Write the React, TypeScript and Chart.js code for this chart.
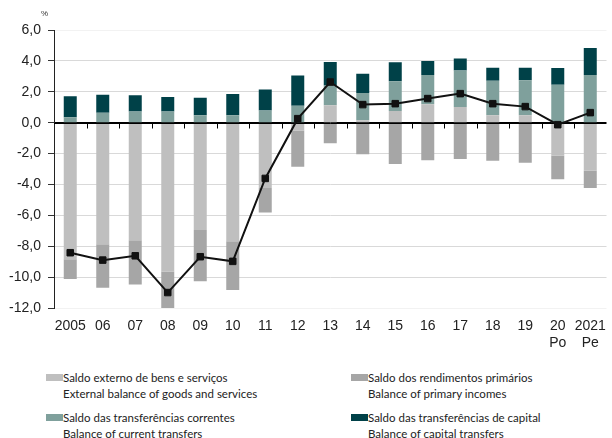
import React, { useEffect, useRef } from "react";
import { Chart, registerables } from "chart.js";

Chart.register(...registerables);

const categories: (string | string[])[] = [
  "2005", "06", "07", "08", "09", "10", "11", "12", "13", "14", "15", "16", "17", "18", "19",
  ["20", "Po"], ["2021", "Pe"],
];

const goodsServices = [-8.85, -7.88, -7.62, -9.63, -6.95, -7.67, -4.23, -0.5, 1.12, 0.15, 0.76, 1.19, 1.02, 0.48, 0.48, -2.14, -3.09];
const primaryIncome = [-1.28, -2.81, -2.86, -3.03, -3.31, -3.17, -1.58, -2.35, -1.34, -2.05, -2.68, -2.44, -2.35, -2.46, -2.59, -1.53, -1.14];
const currentTransfers = [0.35, 0.65, 0.73, 0.73, 0.48, 0.48, 0.78, 1.1, 1.29, 1.77, 1.92, 1.9, 2.35, 2.24, 2.26, 2.46, 3.09];
const capitalTransfers = [1.36, 1.16, 1.04, 0.93, 1.14, 1.38, 1.36, 1.96, 1.51, 1.25, 1.23, 0.91, 0.78, 0.84, 0.82, 1.08, 1.75];
const totalBalance = [-8.42, -8.9, -8.62, -11.0, -8.68, -8.98, -3.61, 0.26, 2.63, 1.17, 1.23, 1.56, 1.88, 1.23, 1.04, -0.13, 0.65];

const legendItems = [
  { pt: "Saldo externo de bens e serviços", en: "External balance of goods and services", color: "#bfbfbf" },
  { pt: "Saldo dos rendimentos primários", en: "Balance of primary incomes", color: "#a6a6a6" },
  { pt: "Saldo das transferências correntes", en: "Balance of current transfers", color: "#7fa09c" },
  { pt: "Saldo das transferências de capital", en: "Balance of capital transfers", color: "#004148" },
];

const AXIS_FONT = "'Liberation Sans', Arial, sans-serif";
const LEGEND_FONT = "Lato, 'Open Sans', sans-serif";

const zeroLinePlugin = {
  id: "zeroLine",
  beforeDatasetDraw(chart: any, args: any) {
    if (args.meta.type !== "line") return;
    const { ctx, chartArea, scales } = chart;
    const x = scales.x;
    const y = scales.y;
    const y0 = Math.round(y.getPixelForValue(0)) + 0.5;
    ctx.save();
    ctx.strokeStyle = "#000";
    ctx.lineWidth = 1;
    ctx.beginPath();
    ctx.moveTo(chartArea.left, y0);
    ctx.lineTo(chartArea.right, y0);
    for (let i = 1; i < x.ticks.length; i++) {
      const px = Math.round((x.getPixelForTick(i - 1) + x.getPixelForTick(i)) / 2) + 0.5;
      ctx.moveTo(px, y0);
      ctx.lineTo(px, y0 + 5);
    }
    ctx.stroke();
    ctx.restore();
  },
};

export default function App() {
  const canvasRef = useRef<HTMLCanvasElement | null>(null);

  useEffect(() => {
    if (!canvasRef.current) return;
    const chart = new Chart(canvasRef.current, {
      type: "bar",
      data: {
        labels: categories,
        datasets: [
          { type: "bar", label: legendItems[0].pt, data: goodsServices, backgroundColor: legendItems[0].color, stack: "bars", order: 1 },
          { type: "bar", label: legendItems[1].pt, data: primaryIncome, backgroundColor: legendItems[1].color, stack: "bars", order: 1 },
          { type: "bar", label: legendItems[2].pt, data: currentTransfers, backgroundColor: legendItems[2].color, stack: "bars", order: 1 },
          { type: "bar", label: legendItems[3].pt, data: capitalTransfers, backgroundColor: legendItems[3].color, stack: "bars", order: 1 },
          {
            type: "line",
            label: "Total",
            data: totalBalance,
            borderColor: "#111",
            backgroundColor: "#111",
            borderWidth: 2,
            pointStyle: "rect",
            pointRadius: 4.6,
            pointBorderWidth: 1,
            pointBackgroundColor: "#111",
            pointBorderColor: "#111",
            stack: "line",
            order: 0,
          } as any,
        ],
      },
      options: {
        responsive: false,
        animation: false,
        devicePixelRatio: 1,
        layout: { padding: { top: 30, left: 0, right: 0, bottom: 0 } },
        plugins: { legend: { display: false }, tooltip: { enabled: false } },
        datasets: { bar: { barPercentage: 0.4, categoryPercentage: 1 } },
        scales: {
          x: {
            stacked: true,
            offset: true,
            grid: { display: false, drawTicks: false },
            border: { display: false },
            ticks: {
              autoSkip: false,
              maxRotation: 0,
              padding: 10,
              color: "#222",
              font: { family: AXIS_FONT, size: 14, lineHeight: 1.2 },
            },
            afterFit(scale: any) {
              scale.height = 52;
            },
          },
          y: {
            stacked: true,
            min: -12,
            max: 6,
            grid: {
              color: (ctx: any) => {
                const v = ctx.tick ? ctx.tick.value : null;
                if (v === 0) return "#000";
                if (v === 6 || v === -12) return "#f2f2f2";
                return "#d9d9d9";
              },
              tickColor: "#333",
              tickLength: 6,
            },
            border: { display: true, color: "#222", width: 1 },
            ticks: {
              stepSize: 2,
              padding: 7,
              color: "#222",
              font: { family: AXIS_FONT, size: 14 },
              callback: (v: any) => Number(v).toFixed(1).replace(".", ","),
            },
            afterFit(scale: any) {
              scale.width = 54;
            },
          },
        },
      },
      plugins: [zeroLinePlugin],
    });
    return () => chart.destroy();
  }, []);

  const legendPos = [
    { left: 46, top: 370 },
    { left: 351, top: 370 },
    { left: 46, top: 410 },
    { left: 351, top: 410 },
  ];

  return (
    <div style={{ position: "absolute", left: 0, top: 0, width: 612, height: 438, overflow: "hidden", background: "#fff" }}>
      <canvas ref={canvasRef} width={616} height={360} style={{ position: "absolute", left: 0, top: 0, width: 616, height: 360 }} />
      <div style={{ position: "absolute", left: 41, top: 9, fontFamily: AXIS_FONT, fontSize: 8, color: "#333" }}>%</div>
      {legendItems.map((item, i) => (
        <div key={i} style={{ position: "absolute", left: legendPos[i].left, top: legendPos[i].top, fontFamily: LEGEND_FONT, fontSize: 11.5, lineHeight: "15.5px", color: "#222", whiteSpace: "nowrap" }}>
          <span style={{ position: "absolute", left: 0, top: 4, width: 17, height: 7, background: item.color }} />
          <div style={{ paddingLeft: 17 }}>{item.pt}</div>
          <div style={{ paddingLeft: 17 }}>{item.en}</div>
        </div>
      ))}
    </div>
  );
}
